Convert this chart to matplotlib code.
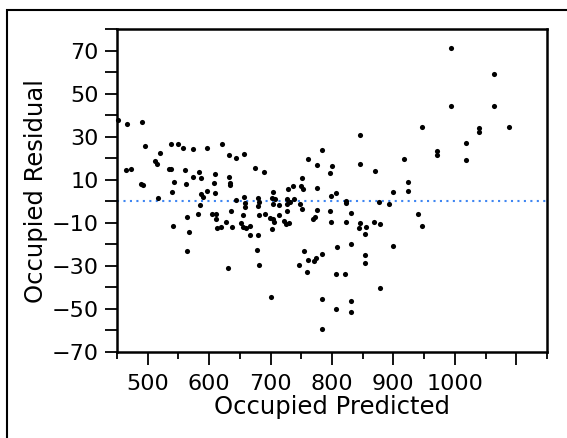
import numpy as np
import matplotlib
matplotlib.use("Agg")
import matplotlib.pyplot as plt
from matplotlib.patches import Rectangle
from matplotlib.ticker import MultipleLocator, FixedLocator

# Predicted vs residual values
predicted = [
    451, 466.7, 490.6, 496, 519.2, 512.2, 514.4, 537.1, 550.1, 558.2,
    573.5, 596.7, 620.6, 633, 643.9, 656.4, 675.2, 464, 473.2, 535,
    538.7, 561.5, 573.5, 583.7, 586.5, 609.3, 632.5, 689.9, 751.1, 760.4,
    775, 783.6, 799.4, 796.6, 844.9, 844.9, 869.3, 993.7, 1064.3, 993.7,
    1064.3, 947.3, 1040, 1040, 1087.5, 1017.6, 971, 971, 916.4, 1017.6,
    489, 492.2, 543.1, 563.1, 607.6, 634.1, 634.6, 539.4, 586.5, 589.7,
    596.2, 609.7, 516, 585.9, 643.4, 657.4, 658.5, 658, 680.1, 681.7,
    679.6, 680.8, 563.8, 581.6, 605.4, 610.9, 611.4, 635.3, 654.8, 628.1,
    636.9, 651.5, 655.2, 660.1, 667.1, 666.6, 679.6, 612.7, 619.5, 540.4,
    566.4, 564.2, 677.5, 680.8, 630.4, 728.4, 737, 749.5, 752.3, 775,
    704.5, 702.9, 707.2, 704.5, 704.5, 705.6, 699.1, 713.7, 714.2, 726.3,
    726.7, 731.6, 737.6, 726.3, 747.9, 750.6, 721.9, 725.1, 729.5, 702.9,
    768.5, 772.7, 775.5, 797.1, 797.8, 806.9, 797.8, 822.1, 822.6, 831.2,
    822.1, 845.9, 843.7, 854.6, 854, 868.1, 877.4, 876.7, 892.5, 900.1,
    900.1, 753.9, 760.9, 771.1, 773.4, 784.1, 745.8, 759.7, 808, 830.7,
    853.5, 853.5, 806.4, 820.5, 877.4, 701.2, 783.1, 830.3, 806.9, 830.3,
    783.1, 923.9, 923.9, 939.6, 947.3, 690.5,
]
residual = [
    37.8, 36.0, 36.8, 25.9, 22.4, 18.6, 17.2, 26.8, 26.8, 24.7,
    24.3, 25.0, 26.5, 21.7, 20.2, 22.2, 15.7, 14.5, 15.2, 15.2,
    15.2, 14.5, 11.2, 13.8, 10.8, 12.8, 11.4, 13.8, 10.8, 19.6,
    17.1, 24.0, 16.6, 13.2, 30.7, 17.5, 14.3, 71.1, 59.2, 44.5,
    44.2, 34.4, 32.3, 34.0, 34.7, 27.0, 21.8, 23.3, 19.6, 19.2,
    7.9, 7.8, 9.0, 7.9, 8.4, 8.7, 7.6, 4.4, 3.6, 2.2,
    4.7, 4.0, 1.4, -1.8, 0.7, 2.2, -0.6, -2.7, 1.6, -0.3,
    -2.1, -6.2, -7.1, -5.7, -6.0, -6.0, -8.0, -4.3, -6.3, -9.6,
    -11.8, -9.9, -12.0, -12.4, -11.4, -15.8, -15.8, -12.4, -11.9, -11.5,
    -14.4, -23.0, -22.7, -29.6, -31.0, 5.8, 7.0, 7.2, 5.6, 6.1,
    4.4, 1.6, 1.0, -1.1, -8.2, -9.7, -7.9, -1.5, -6.2, 1.0,
    -1.1, -0.1, 1.3, -4.5, -1.1, -3.5, -9.2, -10.4, -9.9, -13.0,
    -8.3, -7.1, -4.0, -4.3, 2.5, 3.8, -9.4, 0.0, -0.9, -5.5,
    -9.7, -10.2, -12.2, -11.9, -15.1, -9.7, -10.5, -0.3, -1.2, 4.4,
    -20.6, -22.9, -27.2, -27.6, -26.3, -24.6, -29.7, -32.9, -21.0, -19.8,
    -24.8, -28.8, -33.9, -33.9, -40.2, -44.3, -45.5, -46.3, -49.9, -51.4,
    -59.4, 8.9, 4.8, -6.0, -11.6, -5.7,
]

x_major = [500, 600, 700, 800, 900, 1000, 1100]
x_labels = ["500", "600", "700", "800", "900", "1000", ""]
y_major = [-70, -50, -30, -10, 10, 30, 50, 70]

plt.rcParams["font.family"] = "DejaVu Sans"
plt.rcParams["font.size"] = 16

fig = plt.figure(figsize=(5.67, 4.38), dpi=100)
ax = fig.add_axes([117 / 567, 1 - 352 / 438, 430 / 567, 322.7 / 438])

ax.axhline(0, color="#3f86f2", lw=1.5, linestyle=(0, (1, 2.1)), zorder=1)
ax.plot(predicted, residual, "o", color="black", markersize=3.7,
        markeredgewidth=0, zorder=3, clip_on=False)

ax.set_xlim(450, 1150)
ax.set_ylim(-70, 80)

ax.xaxis.set_major_locator(FixedLocator(x_major))
ax.set_xticklabels(x_labels)
ax.xaxis.set_minor_locator(MultipleLocator(50))
ax.yaxis.set_major_locator(FixedLocator(y_major))
ax.yaxis.set_minor_locator(MultipleLocator(10))

ax.tick_params(axis="x", which="major", length=9.5, width=1.3, pad=6, direction="out")
ax.tick_params(axis="x", which="minor", length=5, width=1.3, direction="out")
ax.tick_params(axis="y", which="both", length=9, width=1.3, pad=4, direction="out")

for s in ax.spines.values():
    s.set_linewidth(1.8)

ax.set_xlabel("Occupied Predicted", fontsize=17.5, labelpad=1)
ax.set_ylabel("Occupied Residual", fontsize=17.5, labelpad=3)

# outer frame round the figure
fig.patches.append(Rectangle((7 / 567, -0.1), 1.2, 1.1 - 10 / 438,
                             transform=fig.transFigure, fill=False,
                             lw=1.5, edgecolor="black"))

fig.savefig("out.png", dpi=100)
